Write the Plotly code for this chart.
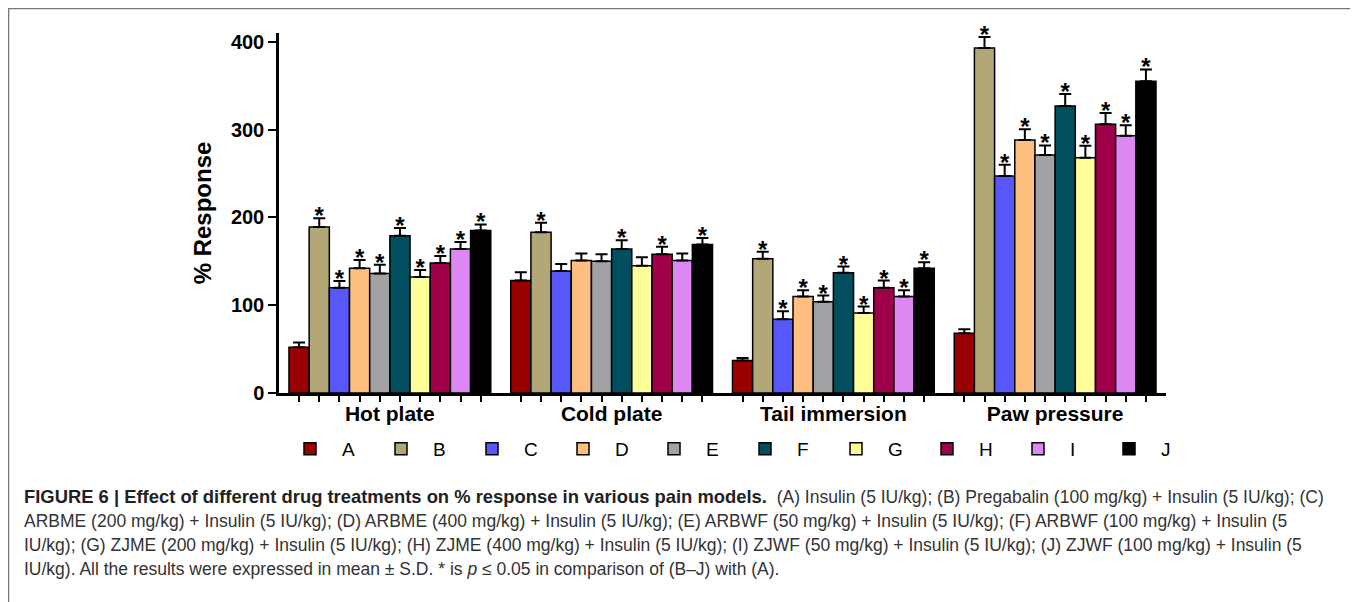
import plotly.graph_objects as go

# ---------------- data ----------------
models = ["Hot plate", "Cold plate", "Tail immersion", "Paw pressure"]
groups = ["A", "B", "C", "D", "E", "F", "G", "H", "I", "J"]

mean_A = [52, 128, 37, 68]
mean_B = [189, 183, 153, 393]
mean_C = [120, 139, 84, 247]
mean_D = [142, 151, 110, 288]
mean_E = [136, 150, 104, 271]
mean_F = [179, 164, 137, 327]
mean_G = [132, 145, 91, 268]
mean_H = [148, 158, 120, 306]
mean_I = [164, 151, 110, 293]
mean_J = [185, 169, 142, 355]

sd_A = [5.5, 9.5, 3, 4.5]
sd_B = [10, 11, 8, 12.5]
sd_C = [7.5, 8, 9, 13]
sd_D = [9.5, 8, 7, 12.5]
sd_E = [10, 8, 7, 11]
sd_F = [9, 10, 7, 13.5]
sd_G = [8, 9.5, 7.5, 13.5]
sd_H = [8, 8.5, 8, 13]
sd_I = [8, 8, 7, 12]
sd_J = [7, 7.5, 7, 13.5]

# significance vs A (p <= 0.05) per model
sig_A = [0, 0, 0, 0]
sig_B = [1, 1, 1, 1]
sig_C = [1, 0, 1, 1]
sig_D = [1, 0, 1, 1]
sig_E = [1, 0, 1, 1]
sig_F = [1, 1, 1, 1]
sig_G = [1, 0, 1, 1]
sig_H = [1, 1, 1, 1]
sig_I = [1, 0, 1, 1]
sig_J = [1, 1, 1, 1]

means = [mean_A, mean_B, mean_C, mean_D, mean_E, mean_F, mean_G, mean_H, mean_I, mean_J]
sds = [sd_A, sd_B, sd_C, sd_D, sd_E, sd_F, sd_G, sd_H, sd_I, sd_J]
sigs = [sig_A, sig_B, sig_C, sig_D, sig_E, sig_F, sig_G, sig_H, sig_I, sig_J]

colors = ["#990000", "#B1A777", "#5757FB", "#FFBF80", "#A2A1A6",
          "#004E5E", "#FFFF99", "#9E0049", "#DC87F2", "#000000"]

y_ticks = [0, 100, 200, 300, 400]

caption_bold = "FIGURE 6 | Effect of different drug treatments on % response in various pain models."
caption_lines = [
    "  (A) Insulin (5 IU/kg); (B) Pregabalin (100 mg/kg) + Insulin (5 IU/kg); (C)",
    "ARBME (200 mg/kg) + Insulin (5 IU/kg); (D) ARBME (400 mg/kg) + Insulin (5 IU/kg); "
    "(E) ARBWF (50 mg/kg) + Insulin (5 IU/kg); (F) ARBWF (100 mg/kg) + Insulin (5",
    "IU/kg); (G) ZJME (200 mg/kg) + Insulin (5 IU/kg); (H) ZJME (400 mg/kg) + Insulin (5 IU/kg); "
    "(I) ZJWF (50 mg/kg) + Insulin (5 IU/kg); (J) ZJWF (100 mg/kg) + Insulin (5",
    "IU/kg). All the results were expressed in mean ± S.D. * is <i>p</i> ≤ 0.05 in comparison of (B–J) with (A).",
]

# ---------------- layout constants ----------------
W, H = 1358, 602
OFF = 8                      # page offset of the figure in the browser
PW, PH = 887, 360            # plot area size
L, T = 279 - OFF, 33 - OFF
R, B = W - L - PW, H - T - PH
BARGAP = 0.09
n = len(groups)
bw = (1 - BARGAP) / n


def px_x(sx):
    """screen x -> paper x"""
    return (sx - OFF - L) / PW


def px_y(sy):
    """screen y -> paper y"""
    return (T + PH - (sy - OFF)) / PH


fig = go.Figure()

for j, g in enumerate(groups):
    fig.add_trace(go.Bar(
        name=g, x=models, y=means[j],
        marker=dict(color=colors[j], line=dict(color="black", width=1.5)),
        error_y=dict(type="data", symmetric=False, array=sds[j],
                     arrayminus=[0] * len(models), color="black",
                     thickness=2, width=6),
    ))

# bar-centre positions on a numeric overlay axis
tick_pos = []
star_x, star_y = [], []
for i in range(len(models)):
    for j in range(n):
        xc = i - (1 - BARGAP) / 2 + bw * (j + 0.5)
        tick_pos.append(xc)
        if sigs[j][i]:
            star_x.append(xc)
            star_y.append(means[j][i] + sds[j][i])

fig.add_trace(go.Scatter(
    x=star_x, y=star_y, xaxis="x2", mode="text", text=["*"] * len(star_x),
    textposition="middle center",
    textfont=dict(family="Arial", size=24, color="black", weight="bold"),
    showlegend=False, hoverinfo="skip", cliponaxis=False,
))

fig.update_layout(
    width=W, height=H,
    margin=dict(l=L, r=R, t=T, b=B),
    paper_bgcolor="white", plot_bgcolor="white",
    barmode="group", bargap=BARGAP, bargroupgap=0,
    font=dict(family="Arial", color="black"),
    xaxis=dict(
        type="category", range=[-0.5, 3.5], showline=True, linecolor="black",
        linewidth=2.5, ticks="",
        tickfont=dict(family="Arial", size=21, color="black", weight="bold"),
        showgrid=False, zeroline=False,
    ),
    xaxis2=dict(
        overlaying="x", range=[-0.5, 3.5], tickmode="array", tickvals=tick_pos,
        ticks="outside", ticklen=8, tickwidth=2, tickcolor="black",
        showticklabels=False, showline=False, showgrid=False, zeroline=False,
        side="bottom",
    ),
    yaxis=dict(
        range=[0, 410], tickmode="array", tickvals=y_ticks,
        showline=True, linecolor="black", linewidth=2.5,
        ticks="outside", ticklen=8, tickwidth=2, tickcolor="black",
        tickfont=dict(family="Arial", size=20, color="black", weight="bold"),
        showgrid=False, zeroline=False,
        title=dict(text="<b>% Response</b>", font=dict(family="Arial", size=24), standoff=13),
    ),
    legend=dict(
        orientation="h", x=px_x(278), xanchor="left", y=px_y(449), yanchor="middle",
        font=dict(family="Arial", size=19, color="black"),
        itemwidth=54, entrywidth=22, entrywidthmode="pixels", traceorder="normal",
        bgcolor="rgba(0,0,0,0)",
    ),
    showlegend=True,
)

# caption
cap_y = [497, 521, 545, 569]
for k, line in enumerate(caption_lines):
    if k == 0:
        text = ("<span style='font-size:18.4px;color:#222222'><b>" + caption_bold +
                "</b></span>" + line)
    else:
        text = line
    fig.add_annotation(
        text=text, xref="paper", yref="paper", x=px_x(22), y=px_y(cap_y[k]),
        xanchor="left", yanchor="middle", showarrow=False, align="left",
        font=dict(family="Arial", size=17.5, color="#333333"),
    )

# figure frame
fig.add_shape(type="rect", xref="paper", yref="paper",
              x0=px_x(8.5), x1=px_x(1355), y0=px_y(620), y1=px_y(8.5),
              line=dict(color="#777777", width=1.5), fillcolor="rgba(0,0,0,0)")

fig.write_html("out.html")
